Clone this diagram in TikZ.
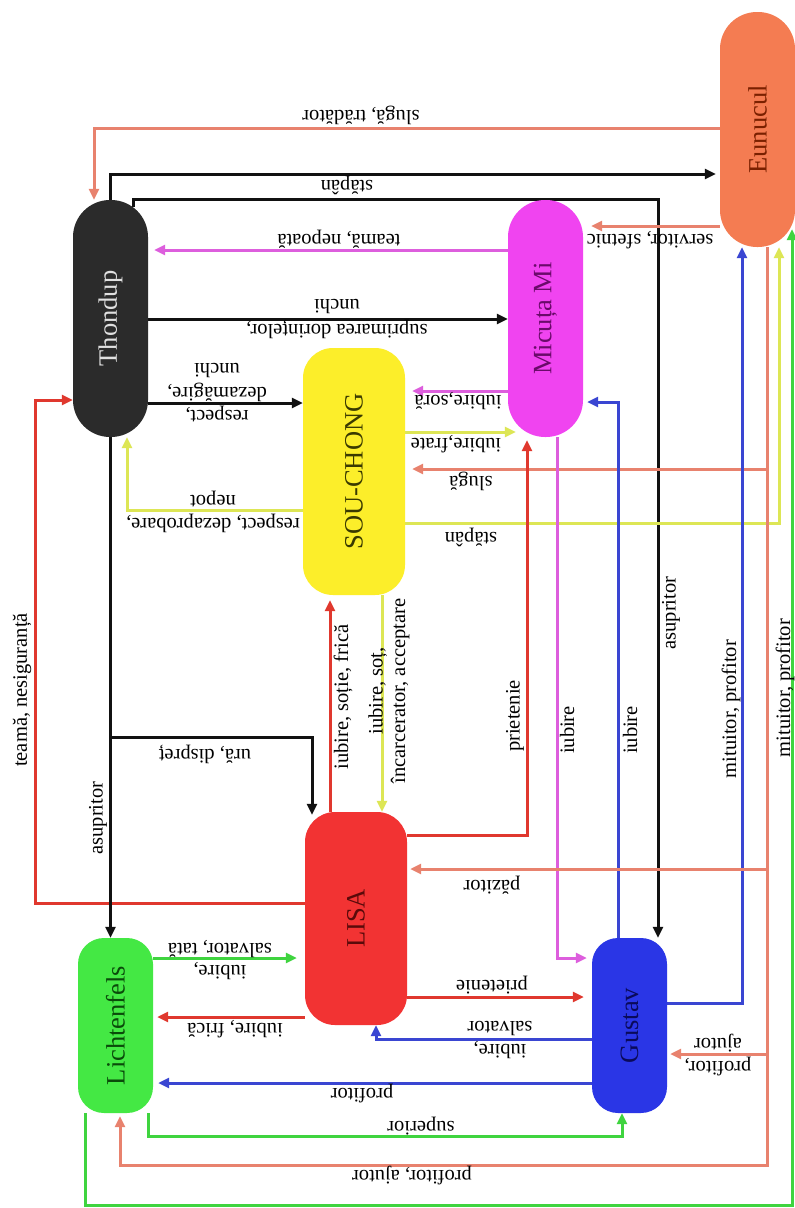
\documentclass[tikz,border=0pt]{standalone}
\usepackage{fontspec}
\setmainfont{Liberation Serif}
\usetikzlibrary{arrows.meta,calc}
\pgfdeclarelayer{bg}
\pgfsetlayers{bg,main}
\definecolor{cSalm}{HTML}{E8826E}
\definecolor{cBlk}{HTML}{111111}
\definecolor{cMag}{HTML}{DD5EDD}
\definecolor{cYel}{HTML}{DDE655}
\definecolor{cRed}{HTML}{E0382E}
\definecolor{cBlu}{HTML}{3A46D2}
\definecolor{cGrn}{HTML}{3FD43F}
\definecolor{fThon}{HTML}{2B2B2B}
\definecolor{tThon}{HTML}{E0E0E0}
\definecolor{fEun}{HTML}{F47C52}
\definecolor{tEun}{HTML}{7A2000}
\definecolor{fMic}{HTML}{F044F0}
\definecolor{tMic}{HTML}{6A0A6A}
\definecolor{fSou}{HTML}{FCEE2A}
\definecolor{tSou}{HTML}{3A3A00}
\definecolor{fLisa}{HTML}{F23333}
\definecolor{tLisa}{HTML}{5A0A0A}
\definecolor{fLic}{HTML}{44E844}
\definecolor{tLic}{HTML}{0A4A0A}
\definecolor{fGus}{HTML}{2A36E6}
\definecolor{tGus}{HTML}{0A0A5A}
\begin{document}
\begin{tikzpicture}[x=1pt,y=-1pt,
  pers/.style={rectangle, inner sep=0pt, font=\fontsize{26.5}{30}\selectfont},
  ar/.style={line width=3pt, -{Triangle[length=11pt,width=10pt]}},
  lab/.style={font=\fontsize{20.5}{22.5}\selectfont, inner sep=1pt, align=center},
  labh/.style={lab, rotate=180},
  labv/.style={lab, rotate=90}]
\useasboundingbox (0,0) rectangle (795,1208);

% persons
\node[pers, fill=fThon, text=tThon, minimum width=75pt, minimum height=237pt, rounded corners=37pt] (Thondup) at (110.5,318.5) {\rotatebox{90}{Thondup}};
\node[pers, fill=fEun, text=tEun, minimum width=75pt, minimum height=235pt, rounded corners=37pt] (Eunucul) at (757.5,129.5) {\rotatebox{90}{Eunucul}};
\node[pers, fill=fMic, text=tMic, minimum width=75pt, minimum height=237pt, rounded corners=37pt] (Micuta) at (545.5,318.5) {\rotatebox{90}{Micuța Mi}};
\node[pers, fill=fSou, text=tSou, minimum width=102pt, minimum height=247pt, rounded corners=30pt] (SOU) at (354,471.5) {\rotatebox{90}{SOU-CHONG}};
\node[pers, fill=fLisa, text=tLisa, minimum width=102pt, minimum height=213pt, rounded corners=30pt] (LISA) at (356,918.5) {\rotatebox{90}{LISA}};
\node[pers, fill=fLic, text=tLic, minimum width=75pt, minimum height=175pt, rounded corners=26pt] (Lichtenfels) at (115.5,1025.5) {\rotatebox{90}{Lichtenfels}};
\node[pers, fill=fGus, text=tGus, minimum width=75pt, minimum height=175pt, rounded corners=26pt] (Gustav) at (629.5,1025.5) {\rotatebox{90}{Gustav}};

\begin{pgfonlayer}{bg}
\fill[white] (0,0) rectangle (795,1208);
\draw[ar,cSalm] (Eunucul.west |- 0,128) -| (Thondup.north -| 94,0);
\draw[ar,cBlk] (Thondup.north) |- ($(Eunucul.west |- 0,174)+(-4,0)$);
\draw[ar,cBlk] ($(Thondup.north)+(22.5,7)$) |- (658,199) -- (Gustav.north -| 658,0);
\draw[ar,cMag] (Micuta.west |- 0,250) -- ($(Thondup.east |- 0,250)+(6,0)$);
\draw[ar,cSalm] (Eunucul.west |- 0,226) -- ($(Micuta.east |- 0,226)+(8,0)$);
\draw[ar,cBlk] (Thondup.east |- 0,319) -- (Micuta.west |- 0,319);
\draw[ar,cBlk] (Thondup.east |- 0,403) -- (SOU.west |- 0,403);
\draw[ar,cYel] (SOU.west |- 0,510) -| (Thondup.south -| 127,0);
\draw[ar,cMag] (Micuta.west |- 0,391) -- ($(SOU.east |- 0,391)+(7,0)$);
\draw[ar,cYel] (SOU.east |- 0,432) -- ($(Micuta.west |- 0,432)+(8,0)$);
\draw[ar,cSalm] (Eunucul.south -| 767,0) |- ($(SOU.east |- 0,469)+(7,0)$);
\draw[ar,cYel] (SOU.east |- 0,523) -| (Eunucul.south -| 779,0);
\draw[ar,cRed] (LISA.west |- 0,903) -| (35,400) -- (Thondup.west |- 0,400);
\draw[ar,cBlk] (Thondup.south) -- (Lichtenfels.north -| Thondup.south);
\draw[ar,cBlk] (Thondup.south |- 0,737) -| ($(LISA.north -| 312,0)+(0,3)$);
\draw[ar,cRed] (LISA.north -| 330,0) -- ($(SOU.south -| 330,0)+(0,5)$);
\draw[ar,cYel] (SOU.south -| 382,0) -- (LISA.north -| 382,0);
\draw[ar,cRed] (LISA.east |- 0,835) -| ($(Micuta.south -| 527,0)+(0,3)$);
\draw[ar,cMag] (Micuta.south -| 557,0) |- ($(Gustav.west |- 0,958)+(-5,0)$);
\draw[ar,cBlu] (Gustav.north -| 618,0) |- ($(Micuta.east |- 0,402)+(4,0)$);
\draw[ar,cBlu] (Gustav.east |- 0,1003) -| (Eunucul.south -| 742,0);
\draw[ar,cSalm] (Eunucul.south -| 767,0) |- ($(Gustav.east |- 0,1054)+(3,0)$);
\draw[ar,cSalm] (Eunucul.south -| 767,0) |- ($(LISA.east |- 0,869)+(3,0)$);
\draw[ar,cSalm] (Eunucul.south -| 767,0) |- (120,1165) -- ($(Lichtenfels.south -| 120,0)+(0,3)$);
\draw[ar,cBlu] (Gustav.west |- 0,1083) -- ($(Lichtenfels.east |- 0,1083)+(5,0)$);
\draw[ar,cBlu] (Gustav.west |- 0,1039) -| (LISA.south -| 376,0);
\draw[ar,cRed] (LISA.east |- 0,997) -- ($(Gustav.west |- 0,997)+(-8,0)$);
\draw[ar,cGrn] (Lichtenfels.east |- 0,958) -- ($(LISA.west |- 0,958)+(-8,0)$);
\draw[ar,cRed] (LISA.west |- 0,1017) -- ($(Lichtenfels.east |- 0,1017)+(4,0)$);
\draw[ar,cGrn] (Lichtenfels.south -| 148,0) |- (622,1136) -- (Gustav.south -| 622,0);
\draw[ar,cGrn] (Lichtenfels.south -| 85,0) |- (792,1205) -- ($(Eunucul.south -| 792,0)+(0,-18)$);
\end{pgfonlayer}

% labels
\node[labh] (l1) at (361,115) {slugă, trădător};
\node[labh] (l2) at (347,185) {stăpân};
\node[labv] (l3) at (671,613) {asupritor};
\node[labh] (l4) at (339,239) {teamă, nepoată};
\node[labh] (l5) at (650,240) {servitor, sfetnic};
\node[labh, font=\fontsize{20.5}{25}\selectfont] (l6) at (337,319) {suprimarea dorințelor,\\unchi};
\node[labh, font=\fontsize{20.5}{23.5}\selectfont] (l7) at (217,393) {respect,\\dezamăgire,\\unchi};
\node[labh] (l8) at (213,512) {respect, dezaprobare,\\nepot};
\node[labh] (l9) at (458,401) {iubire,soră};
\node[labh] (l10) at (456,444) {iubire,frate};
\node[labh] (l11) at (471,481) {slugă};
\node[labh] (l12) at (471,537) {stăpân};
\node[labv] (l13) at (22,690) {teamă, nesiguranță};
\node[labv] (l14) at (98,818) {asupritor};
\node[labh] (l15) at (205,754) {ură, dispreț};
\node[labv] (l16) at (343,697) {iubire, soție, frică};
\node[labv] (l17) at (389,691) {iubire, soț,\\încarcerator, acceptare};
\node[labv] (l18) at (515,716) {prietenie};
\node[labv] (l19) at (567,730) {iubire};
\node[labv] (l20) at (630,730) {iubire};
\node[labv] (l22) at (731,709) {mituitor, profitor};
\node[labh] (l23) at (718,1055) {profitor,\\ajutor};
\node[labh] (l24) at (492,885) {păzitor};
\node[labh] (l25) at (412,1176) {profitor, ajutor};
\node[labh] (l26) at (362,1094) {profitor};
\node[labh] (l27) at (500,1040) {iubire,\\salvator};
\node[labh] (l28) at (492,985) {prietenie};
\node[labh] (l29) at (220,960) {iubire,\\salvator, tată};
\node[labh] (l30) at (235,1029) {iubire, frică};
\node[labh] (l31) at (421,1126) {superior};
\node[labv] (l32) at (785,688) {mituitor, profitor};
\end{tikzpicture}
\end{document}
